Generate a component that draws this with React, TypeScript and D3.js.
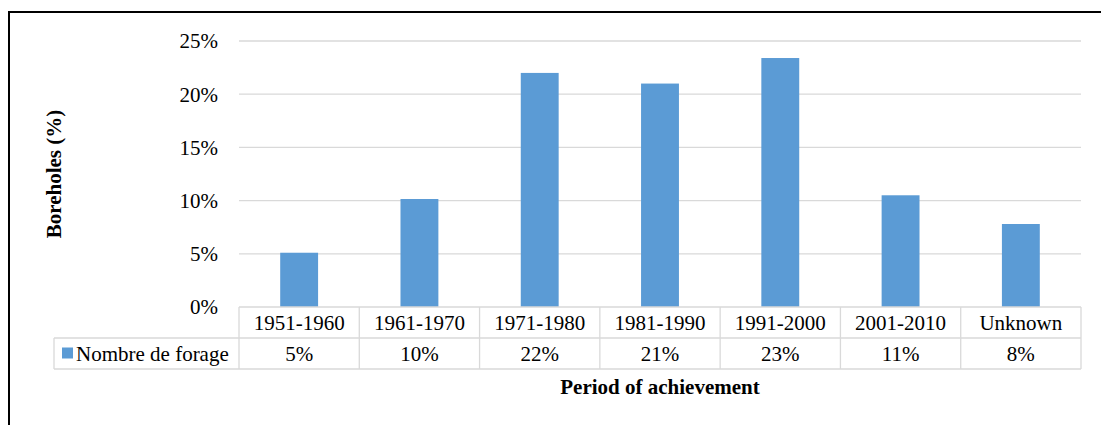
import React, { useEffect, useRef } from 'react';
import * as d3 from 'd3';

const periods = ['1951-1960', '1961-1970', '1971-1980', '1981-1990', '1991-2000', '2001-2010', 'Unknown'];
const boreholePct = [5.1, 10.15, 22.0, 21.0, 23.4, 10.5, 7.8];
const tableLabels = ['5%', '10%', '22%', '21%', '23%', '11%', '8%'];
const yTicks = [0, 5, 10, 15, 20, 25];
const seriesName = 'Nombre de forage';

const W = 1101;
const H = 425;
const FONT = 'Liberation Serif';
const FS = 21;

const App = () => {
  const ref = useRef<SVGSVGElement | null>(null);

  useEffect(() => {
    const svg = d3.select(ref.current);
    svg.selectAll('*').remove();

    const left = 239;
    const right = 1081;
    const top = 41;
    const bottom = 307;
    const rowH = 31;
    const legendLeft = 54;

    const y = d3.scaleLinear().domain([0, 25]).range([bottom, top]);
    const xCell = d3.scaleBand<string>().domain(periods).range([left, right]);
    const xBar = d3.scaleBand<string>()
      .domain(periods)
      .range([left, right])
      .paddingInner(0.685)
      .paddingOuter(0.3425);

    const grid = '#d9d9d9';

    svg.attr('font-family', FONT).attr('font-size', FS);

    // outer frame
    svg.append('path')
      .attr('d', `M9,${H + 5}V12H${W + 5}`)
      .attr('fill', 'none')
      .attr('stroke', '#000')
      .attr('stroke-width', 2);

    // gridlines
    svg.append('g')
      .selectAll('line')
      .data(yTicks.filter(t => t > 0))
      .join('line')
      .attr('x1', left)
      .attr('x2', right)
      .attr('y1', d => y(d))
      .attr('y2', d => y(d))
      .attr('stroke', grid)
      .attr('stroke-width', 1.3);

    // y tick labels
    svg.append('g')
      .selectAll('text')
      .data(yTicks)
      .join('text')
      .attr('x', 218)
      .attr('y', d => y(d))
      .attr('dy', '0.35em')
      .attr('text-anchor', 'end')
      .text(d => `${d}%`);

    // bars
    svg.append('g')
      .selectAll('rect')
      .data(periods)
      .join('rect')
      .attr('x', d => xBar(d)!)
      .attr('width', xBar.bandwidth())
      .attr('y', (d, i) => y(boreholePct[i]))
      .attr('height', (d, i) => y(0) - y(boreholePct[i]))
      .attr('fill', '#5b9bd5');

    // data table
    const t = svg.append('g')
      .attr('fill', 'none')
      .attr('stroke', grid)
      .attr('stroke-width', 1.3);
    t.append('line').attr('x1', left).attr('x2', right).attr('y1', bottom).attr('y2', bottom);
    t.append('line').attr('x1', legendLeft).attr('x2', right).attr('y1', bottom + rowH).attr('y2', bottom + rowH);
    t.append('line').attr('x1', legendLeft).attr('x2', right).attr('y1', bottom + 2 * rowH).attr('y2', bottom + 2 * rowH);
    t.append('line').attr('x1', legendLeft).attr('x2', legendLeft).attr('y1', bottom + rowH).attr('y2', bottom + 2 * rowH);
    t.selectAll('.v')
      .data([...periods.map(p => xCell(p)!), right])
      .join('line')
      .attr('x1', d => d)
      .attr('x2', d => d)
      .attr('y1', bottom)
      .attr('y2', bottom + 2 * rowH);

    svg.append('g')
      .selectAll('text')
      .data(periods)
      .join('text')
      .attr('x', d => xCell(d)! + xCell.bandwidth() / 2)
      .attr('y', bottom + rowH / 2)
      .attr('dy', '0.35em')
      .attr('text-anchor', 'middle')
      .text(d => d);

    svg.append('g')
      .selectAll('text')
      .data(periods)
      .join('text')
      .attr('x', d => xCell(d)! + xCell.bandwidth() / 2)
      .attr('y', bottom + rowH * 1.5)
      .attr('dy', '0.35em')
      .attr('text-anchor', 'middle')
      .text((d, i) => tableLabels[i]);

    // legend key
    svg.append('rect')
      .attr('x', 62)
      .attr('y', bottom + rowH * 1.5 - 6)
      .attr('width', 11)
      .attr('height', 11)
      .attr('fill', '#5b9bd5');
    svg.append('text')
      .attr('x', 76)
      .attr('y', bottom + rowH * 1.5)
      .attr('dy', '0.35em')
      .text(seriesName);

    // axis titles
    svg.append('text')
      .attr('x', (left + right) / 2)
      .attr('y', 394)
      .attr('text-anchor', 'middle')
      .attr('font-weight', 'bold')
      .text('Period of achievement');

    svg.append('text')
      .attr('transform', `translate(61,${(top + bottom) / 2}) rotate(-90)`)
      .attr('text-anchor', 'middle')
      .attr('font-weight', 'bold')
      .text('Boreholes (%)');
  }, []);

  return (
    <div style={{ position: 'absolute', left: 0, top: 0 }}>
      <svg ref={ref} width={W} height={H} style={{ display: 'block', background: '#fff' }} />
    </div>
  );
};

export default App;
